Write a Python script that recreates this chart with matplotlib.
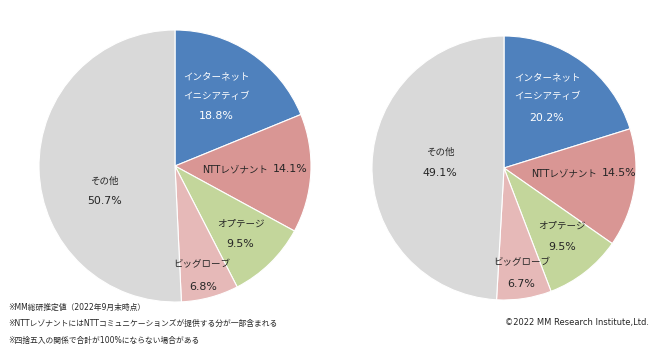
import matplotlib
matplotlib.use("Agg")
import matplotlib.pyplot as plt

# DejaVu for latin glyphs (close to Meiryo's wide latin), Noto CJK for kana/kanji
plt.rcParams['font.family'] = ['DejaVu Sans', 'Noto Sans CJK JP']

names = [["インターネット", "イニシアティブ"], ["NTTレゾナント"], ["オプテージ"], ["ビッグローブ"], ["その他"]]
share_left = [18.8, 14.1, 9.5, 6.8, 50.7]
share_right = [20.2, 14.5, 9.5, 6.7, 49.1]
colors = ["#4F81BD", "#D99694", "#C3D69B", "#E6B9B8", "#D9D9D9"]

notes = ["※MM総研推定値（2022年9月末時点）",
         "※NTTレゾナントにはNTTコミュニケーションズが提供する分が一部含まれる",
         "※四捨五入の関係で合計が100%にならない場合がある"]
copyright_text = "©2022 MM Research Institute,Ltd."

fig = plt.figure(figsize=(6.65, 3.53), dpi=100)
ax = fig.add_axes([0, 0, 1, 1])

NAME_FS = 6.85
PCT_FS = 7.9
LINE_GAP = 19.5


def draw_pie(values, center, radius, name_pos, pct_pos):
    # y axis is inverted below, so counterclock=True runs clockwise on screen
    ax.pie(values, colors=colors, startangle=-90, counterclock=True,
           center=center, radius=radius, frame=True,
           wedgeprops=dict(edgecolor='white', linewidth=0.8))
    for i, v in enumerate(values):
        col = 'white' if i == 0 else '#262626'
        x, y = name_pos[i]
        px, py = pct_pos[i]
        if i == 1:
            # one-line label: name then value
            ax.text(x, y, names[i][0], ha='right', va='center', fontsize=NAME_FS, color=col)
            ax.text(px, py, f"{v}%", ha='left', va='center', fontsize=PCT_FS, color=col)
            continue
        for k, line in enumerate(names[i]):
            ax.text(x, y + k * LINE_GAP, line, ha='center', va='center',
                    fontsize=NAME_FS, color=col)
        ax.text(px, py, f"{v}%", ha='center', va='center', fontsize=PCT_FS, color=col)


draw_pie(share_left, (175, 166), 136,
         [(216, 76), (268, 169), (241, 224), (202, 264), (104, 181)],
         [(216, 116), (273, 169), (240, 244), (203, 287), (105, 201)])
draw_pie(share_right, (504, 168), 132,
         [(547, 77), (597, 173), (562, 226), (522, 262), (440, 152)],
         [(547, 118), (602, 173), (562, 247), (521, 284), (440, 173)])

ax.set_xlim(0, 665)
ax.set_ylim(353, 0)
ax.set_aspect('equal')
ax.axis('off')

for k, note in enumerate(notes):
    ax.text(8, 307 + k * 16.5, note, ha='left', va='center', fontsize=5.6, color='#262626')
ax.text(649, 322, copyright_text, ha='right', va='center', fontsize=6.0, color='#262626')

fig.savefig("out.png", dpi=100, facecolor='white')
